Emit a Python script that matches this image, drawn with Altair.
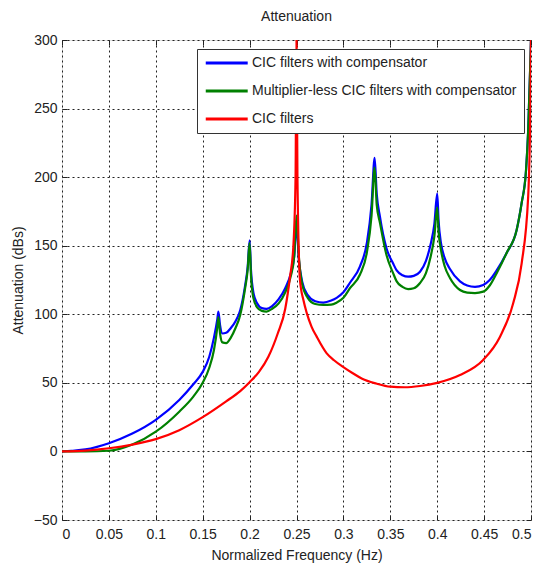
import altair as alt
import pandas as pd

# ---- data ----
series_names = ["CIC filters with compensator",
                "Multiplier-less CIC filters with compensator",
                "CIC filters"]
series_colors = ["#0000ff", "#008000", "#ff0000"]

blue_x = [0, 0.01, 0.025, 0.05, 0.075, 0.1, 0.125, 0.14, 0.15, 0.157, 0.162, 0.1655, 0.1667, 0.1685,
          0.171, 0.175, 0.18, 0.185, 0.19, 0.195, 0.198, 0.2, 0.2015, 0.204, 0.208, 0.213, 0.218,
          0.224, 0.231, 0.238, 0.244, 0.2475, 0.25, 0.2525, 0.256, 0.262, 0.27, 0.2786, 0.287,
          0.2928, 0.3, 0.307, 0.3177, 0.325, 0.33, 0.3333, 0.3355, 0.339, 0.346, 0.353, 0.3568,
          0.363, 0.369, 0.375, 0.3817, 0.388, 0.393, 0.397, 0.4, 0.4015, 0.404, 0.408, 0.4136,
          0.4243, 0.432, 0.4403, 0.449, 0.456, 0.4634, 0.474, 0.4847, 0.49, 0.4947, 0.497, 0.4997, 0.5]
blue_y = [0, 0.5, 1.5, 6, 13, 23, 37.5, 49, 58, 69, 83, 96, 102, 92,
          86, 86.5, 90, 95, 103, 120, 135, 154, 132, 116, 108, 104.5, 104,
          106, 111, 119, 130, 142, 165, 140, 124, 114, 109.5, 108.5, 110,
          112, 116, 123, 135, 152, 180, 214, 188, 171, 148, 137, 132,
          128.5, 127.4, 128, 131, 139, 151, 166, 188, 168, 152, 141, 133,
          124, 121, 120, 121.4, 125, 132, 144.7, 161.5, 181, 205, 234, 293, 300]

green_x = blue_x
green_y = [0, 0, 0, 0.5, 5, 14.4, 29, 40, 50, 61, 74, 90, 98, 86,
           79.5, 79, 83, 90, 99.5, 118, 133, 152, 128, 112, 105, 102.5, 102,
           104, 108, 116, 128, 142, 172, 142, 122, 112, 107.5, 106.8, 107,
           108.5, 112, 119, 129, 145, 172, 207, 180, 166.6, 143, 130, 124,
           120, 118.4, 119, 122.8, 130, 142, 157, 178, 160, 147, 135, 126.5,
           117.7, 115.8, 115.5, 116.5, 121, 130, 144.7, 161.5, 181, 205, 234, 293, 300]

red_x = [0, 0.025, 0.05, 0.075, 0.1, 0.125, 0.15, 0.175, 0.19, 0.2, 0.21, 0.22, 0.23, 0.238,
         0.243, 0.2466, 0.249, 0.25, 0.251, 0.2537, 0.2575, 0.2609, 0.266, 0.2715, 0.282, 0.29,
         0.3, 0.31, 0.32, 0.335, 0.35, 0.365, 0.3817, 0.4, 0.4243, 0.449, 0.467, 0.481, 0.49,
         0.497, 0.4995, 0.5]
red_y = [0, 0.6, 2.3, 5, 9, 15.5, 25, 36.5, 44, 50.5, 58, 69, 86, 104,
         127, 149, 200, 300, 200, 125, 110, 101, 91, 83.7, 71.7, 66.5,
         61.5, 57, 53, 49.5, 47.2, 46.8, 47.7, 50, 55.7, 66.7, 83.7, 108, 137,
         186, 260, 300]

x_ticks = [0, 0.05, 0.1, 0.15, 0.2, 0.25, 0.3, 0.35, 0.4, 0.45, 0.5]
y_ticks = [-50, 0, 50, 100, 150, 200, 250, 300]

frames = []
for name, xs, ys in zip(series_names, [blue_x, green_x, red_x], [blue_y, green_y, red_y]):
    frames.append(pd.DataFrame({"freq": xs, "att": ys, "series": name}))
df = pd.concat(frames, ignore_index=True)

FONT = "Liberation Sans"
FS = 14
xscale = alt.Scale(domain=[0, 0.5], nice=False, zero=False)
yscale = alt.Scale(domain=[-50, 300], nice=False, zero=False)
cscale = alt.Scale(domain=series_names, range=series_colors)

main_x_axis = alt.Axis(values=x_ticks, format="~g", title="Normalized Frequency (Hz)",
                       grid=True, gridDash=[2, 3], gridColor="#222", gridOpacity=1,
                       ticks=False, domain=False, labelFontSize=FS, labelColor="#222",
                       labelFont=FONT, labelPadding=7, titleFont=FONT, titleFontSize=FS,
                       titleFontWeight="normal", titleColor="#222", titlePadding=7)
main_y_axis = alt.Axis(values=y_ticks, format="d", title="Attenuation (dBs)",
                       grid=True, gridDash=[2, 3], gridColor="#222", gridOpacity=1,
                       ticks=False, domain=False, labelFontSize=FS, labelColor="#222",
                       labelFont=FONT, labelPadding=5, titleFont=FONT, titleFontSize=FS,
                       titleFontWeight="normal", titleColor="#222", titlePadding=8)

legend = alt.Legend(title=None, orient="none", legendX=135, legendY=9,
                    symbolType="M-1,0L7,0", symbolSize=110, symbolStrokeWidth=3,
                    labelOffset=34, labelFont=FONT, labelFontSize=FS, labelColor="#222",
                    strokeColor="#333", fillColor="white", padding=7, rowPadding=14,
                    labelLimit=400)

layers = []
for i, name in enumerate(series_names):
    enc = dict(
        x=alt.X("freq:Q", scale=xscale, axis=main_x_axis if i == 0 else None),
        y=alt.Y("att:Q", scale=yscale, axis=main_y_axis if i == 0 else None),
        color=alt.Color("series:N", scale=cscale, legend=legend if i == 0 else None),
    )
    layers.append(
        alt.Chart(df).transform_filter(alt.datum.series == name)
        .mark_line(strokeWidth=2.2, clip=True, interpolate="monotone").encode(**enc)
    )

# inward tick marks (MATLAB style) on all four sides
def tick_axis(orient, vals):
    return alt.Axis(orient=orient, values=vals, labels=False, grid=False, domain=False,
                    ticks=True, tickSize=5, tickColor="#222", title=None, offset=-5)

top_right = alt.Chart(df).mark_point(opacity=0).encode(
    x=alt.X("freq:Q", scale=xscale, axis=tick_axis("top", x_ticks)),
    y=alt.Y("att:Q", scale=yscale, axis=tick_axis("right", y_ticks)),
)
bottom_left = alt.Chart(df).mark_point(opacity=0).encode(
    x=alt.X("freq:Q", scale=xscale, axis=tick_axis("bottom", x_ticks)),
    y=alt.Y("att:Q", scale=yscale, axis=tick_axis("left", y_ticks)),
)

chart = alt.layer(*layers, top_right, bottom_left).resolve_axis(
    x="independent", y="independent"
).properties(
    width=469, height=480,
    title=alt.TitleParams("Attenuation", font=FONT, fontSize=FS, fontWeight="normal",
                          color="#222", offset=9),
    autosize=alt.AutoSizeParams(type="none"),
    padding={"left": 54, "top": 32, "right": 2, "bottom": 46},
).configure_view(stroke="#333", strokeWidth=1.2).configure(background="white")

chart.save("out.html", embed_options={"renderer": "svg", "actions": False})
